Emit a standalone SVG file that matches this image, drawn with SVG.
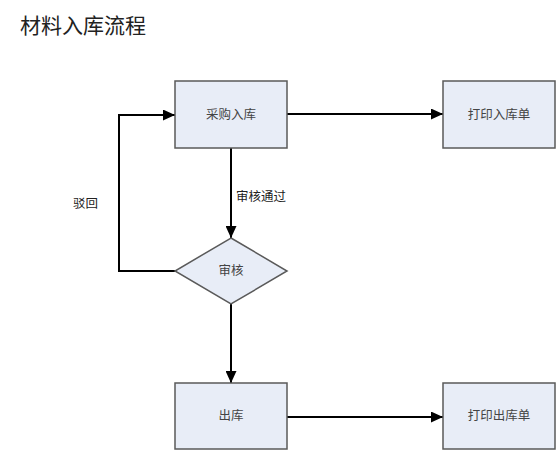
<svg xmlns="http://www.w3.org/2000/svg" width="558" height="453" viewBox="0 0 558 453">
<style>
.node{fill:#E8EDF7;stroke:#5a5a5a;stroke-width:1.5}
.lbl{font-family:"Liberation Sans","Noto Sans CJK SC",sans-serif;font-size:12.5px;fill:#444;text-anchor:middle;dominant-baseline:central}
.edge{fill:none;stroke:#000;stroke-width:2}
.elbl{font-family:"Liberation Sans","Noto Sans CJK SC",sans-serif;font-size:12.5px;fill:#222}
</style>
<defs>
<marker id="arr" viewBox="0 0 12 11" refX="12" refY="5.5" markerWidth="12" markerHeight="11" markerUnits="userSpaceOnUse" orient="auto">
<path d="M0,0 L12,5.5 L0,11 Z" fill="#000"/>
</marker>
</defs>
<rect width="558" height="453" fill="#fff"/>
<text x="20" y="33" font-family="'Noto Sans CJK SC',sans-serif" font-size="21" fill="#222">材料入库流程</text>
<g id="connectors">
<path class="edge" d="M287,114 L443,114" marker-end="url(#arr)"/>
<path class="edge" d="M231,148 L231,238" marker-end="url(#arr)"/>
<path class="edge" d="M175,271 L119,271 L119,115 L175,115" marker-end="url(#arr)"/>
<path class="edge" d="M231,304 L231,383" marker-end="url(#arr)"/>
<path class="edge" d="M287,417 L443,417" marker-end="url(#arr)"/>
<text class="elbl" x="236" y="201">审核通过</text>
<text class="elbl" x="73" y="208">驳回</text>
</g>
<g id="n1"><rect class="node" x="175" y="81" width="112" height="67"/><text class="lbl" x="231" y="115">采购入库</text></g>
<g id="n2"><rect class="node" x="443" y="81" width="112" height="67"/><text class="lbl" x="499" y="115">打印入库单</text></g>
<g id="n3"><polygon class="node" points="231,238 287,271 231,304 175,271"/><text class="lbl" x="231" y="271">审核</text></g>
<g id="n4"><rect class="node" x="175" y="383" width="112" height="66"/><text class="lbl" x="231" y="416">出库</text></g>
<g id="n5"><rect class="node" x="443" y="383" width="112" height="66"/><text class="lbl" x="499" y="416">打印出库单</text></g>
</svg>
